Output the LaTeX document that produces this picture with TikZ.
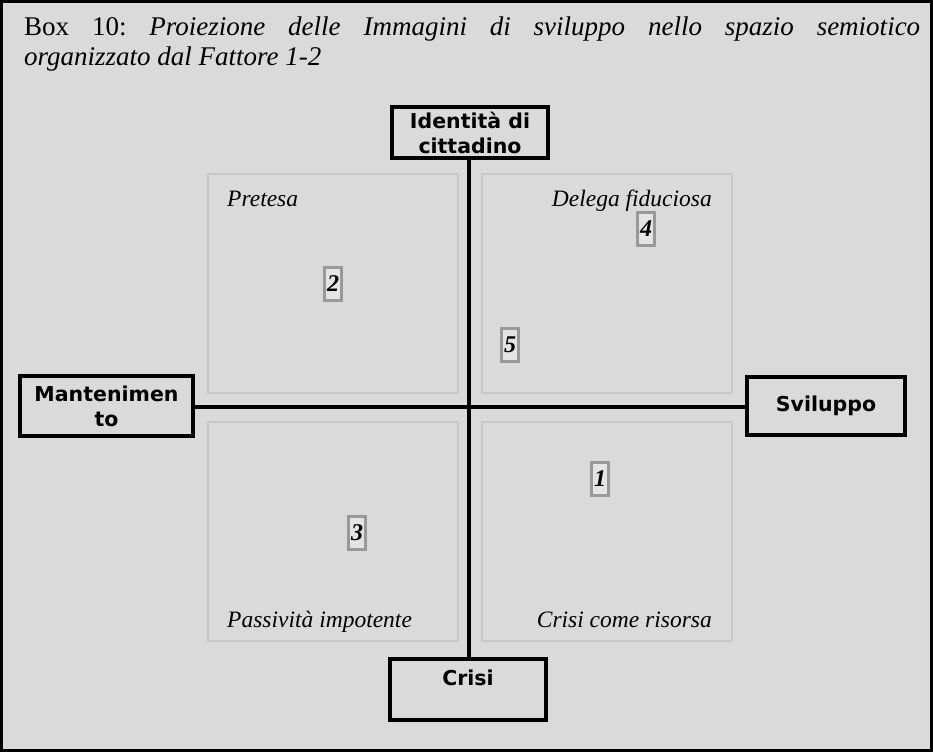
\documentclass[tikz,border=0pt]{standalone}
\usepackage{fontspec}
\setmainfont{Liberation Serif}
\newfontfamily\boxsans{DejaVu Sans}
\definecolor{bgc}{RGB}{218,218,218}
\definecolor{quadc}{RGB}{200,200,200}
\definecolor{numc}{RGB}{153,153,153}
\definecolor{numfill}{RGB}{228,228,228}
\frenchspacing
\begin{document}
\begin{tikzpicture}[x=1pt,y=-1pt,
  frame/.style={draw=black, line width=3pt, fill=bgc},
  axisbox/.style={draw=black, line width=4pt, fill=bgc, align=center, inner sep=0pt,
    font=\boxsans\bfseries\fontsize{20.5}{25}\selectfont},
  quad/.style={draw=quadc, line width=2pt, minimum width=250pt, minimum height=219pt, inner sep=0pt},
  axis/.style={line width=3.5pt},
  qlabel/.style={font=\itshape\fontsize{23.5}{28}\selectfont, inner sep=0pt},
  numbox/.style={draw=numc, fill=numfill, line width=3pt, minimum width=17pt, minimum height=33pt,
    inner sep=0pt, font=\bfseries\itshape\fontsize{24}{28}\selectfont},
]
\useasboundingbox (0,0) rectangle (933,752);
% outer frame
\draw[frame] (1.5,1.5) rectangle (931.5,750.5);

% title
\node[anchor=north west, text width=896pt, align=justify, inner sep=0pt,
      font=\fontsize{27}{30}\selectfont] (title) at (24,17)
  {Box 10: \textit{Proiezione delle Immagini di sviluppo nello spazio semiotico}\linebreak
   \textit{organizzato dal Fattore 1-2}};

% quadrants
\node[quad] (qtl) at (332.5,283) {};
\node[quad] (qtr) at (606.5,283) {};
\node[quad] (qbl) at (332.5,531.5) {};
\node[quad] (qbr) at (606.5,531.5) {};

% axis poles
\node[axisbox, minimum width=156pt, minimum height=51pt] (ident) at (470,132.5) {Identità di\\cittadino};
\node[axisbox, minimum width=173pt, minimum height=60pt] (mant) at (106.5,406) {Mantenimen\\to};
\node[axisbox, minimum width=158pt, minimum height=58pt] (svil) at (826,406) {Sviluppo};
\node[axisbox, minimum width=156pt, minimum height=61pt,
      label={[anchor=north, yshift=-13pt, inner sep=0pt, font=\boxsans\bfseries\fontsize{20.5}{25}\selectfont]north:Crisi}]
      (crisi) at (468,689.5) {};

% axes
\coordinate (o) at (469,407);
\draw[axis] (ident.south -| o) -- (crisi.north -| o);
\draw[axis] (mant.east |- o) -- (svil.west |- o);

% quadrant labels
\node[qlabel, anchor=base west] (lpre) at (227,206) {Pretesa};
\node[qlabel, anchor=base east] (ldel) at (712,206) {Delega fiduciosa};
\node[qlabel, anchor=base west] (lpas) at (227,627) {Passività impotente};
\node[qlabel, anchor=base east] (lcri) at (712,627) {Crisi come risorsa};

% projected images
\node[numbox] (n1) at (600,479) {1};
\node[numbox] (n2) at (333,284) {2};
\node[numbox] (n3) at (357,533) {3};
\node[numbox] (n4) at (646,228.5) {4};
\node[numbox] (n5) at (510,344.5) {5};
\end{tikzpicture}
\end{document}
